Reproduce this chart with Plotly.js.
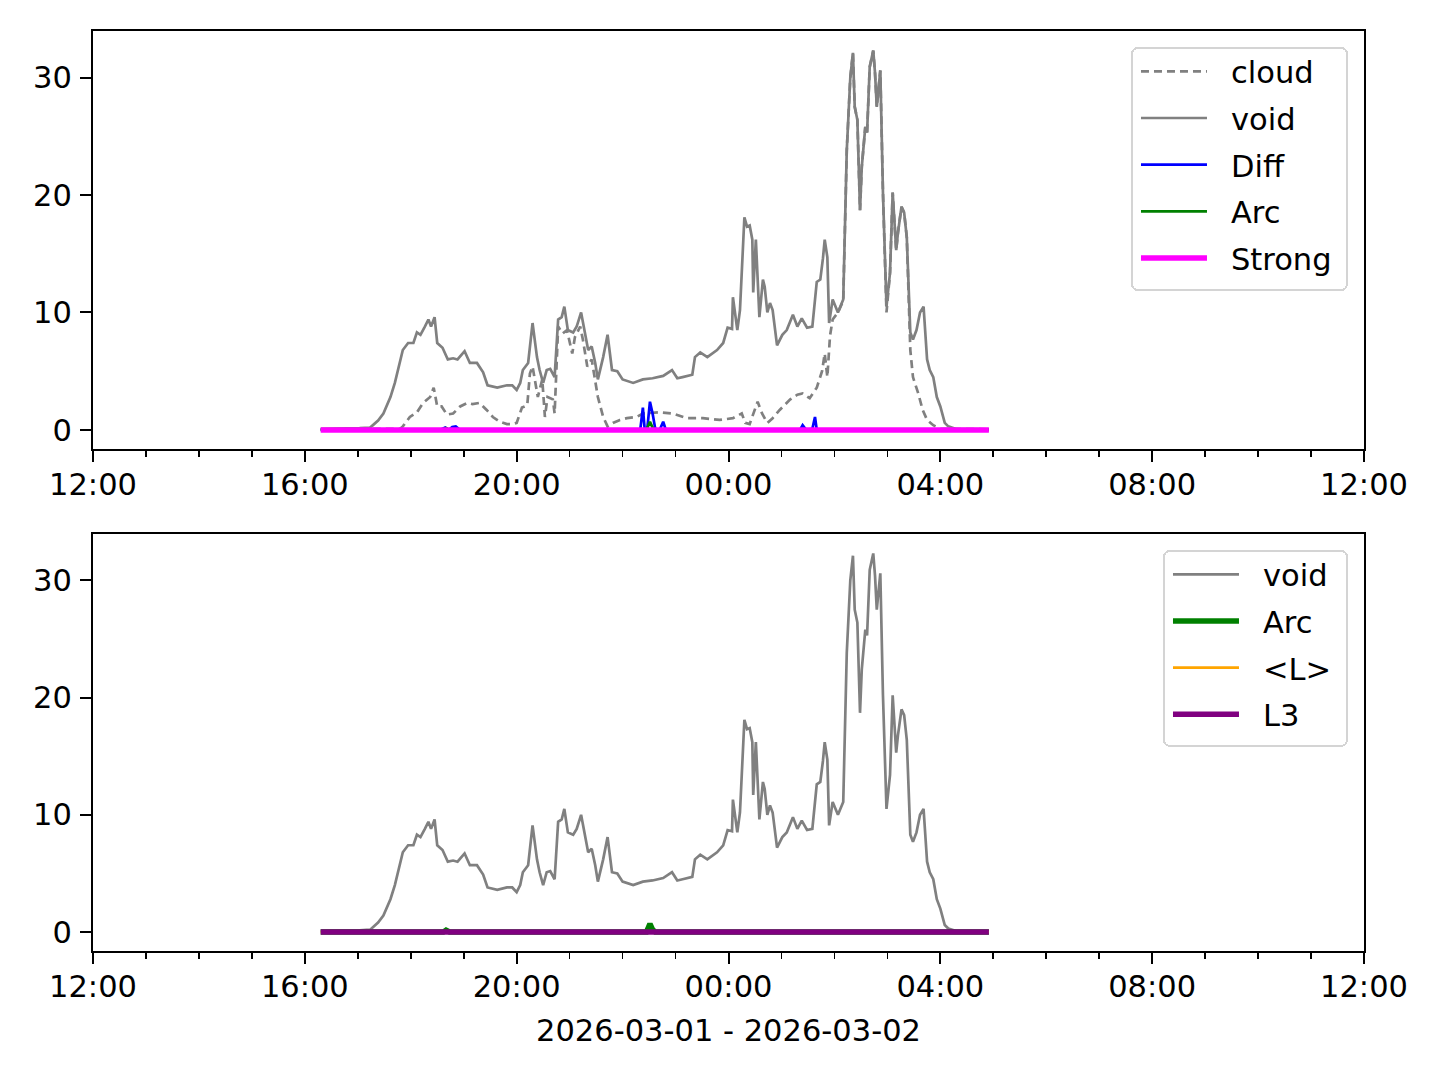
<!DOCTYPE html>
<html>
<head>
<meta charset="utf-8">
<script src="https://cdn.plot.ly/plotly-3.0.1.min.js"></script>
<style>
  html, body { margin: 0; padding: 0; background: #ffffff; }
  #chart { width: 1440px; height: 1080px; }
</style>
</head>
<body>
<div id="chart"></div>
<script>
// ---- data ----
const voidTimes = ["16:18","16:40","17:02","17:14","17:17","17:23","17:29","17:37","17:42","17:48","17:51","17:57","18:03","18:07","18:11","18:16","18:20","18:23","18:27","18:30","18:36","18:42","18:48","18:53","19:01","19:07","19:15","19:22","19:27","19:38","19:49","19:55","20:00","20:04","20:07","20:13","20:18","20:23","20:26","20:30","20:34","20:38","20:43","20:47","20:51","20:54","20:58","21:04","21:08","21:13","21:17","21:21","21:25","21:29","21:32","21:38","21:43","21:48","21:54","22:00","22:12","22:23","22:34","22:46","22:56","23:02","23:08","23:19","23:22","23:28","23:36","23:47","23:54","23:59","00:04","00:05","00:10","00:13","00:18","00:21","00:24","00:27","00:28","00:31","00:35","00:39","00:41","00:44","00:47","00:50","00:55","01:01","01:06","01:10","01:13","01:18","01:23","01:29","01:35","01:40","01:44","01:47","01:49","01:52","01:54","01:58","02:04","02:10","02:14","02:18","02:21","02:23","02:26","02:29","02:31","02:35","02:37","02:40","02:44","02:46","02:48","02:52","02:55","02:59","03:03","03:06","03:10","03:12","03:16","03:19","03:22","03:26","03:29","03:33","03:37","03:41","03:45","03:48","03:52","03:56","04:00","04:05","04:09","04:17","04:34","04:55"];
const voidValues = [0.1,0.1,0.15,0.2,0.4,0.8,1.4,2.8,4.0,6.0,6.8,7.4,7.4,8.3,8.1,8.8,9.4,8.8,9.6,7.4,7.0,6.0,6.1,6.0,6.7,5.7,5.7,4.9,3.8,3.6,3.8,3.8,3.4,4.0,5.1,5.7,9.1,6.2,5.1,4.0,5.1,5.2,4.5,9.4,9.6,10.5,8.5,8.3,8.8,10.0,8.3,6.8,7.1,5.7,4.3,6.2,8.1,5.1,5.0,4.3,4.0,4.3,4.4,4.6,5.1,4.4,4.5,4.7,6.2,6.6,6.2,6.8,7.4,8.7,8.6,11.3,8.5,10.2,18.1,17.3,17.4,16.2,11.7,16.2,9.6,12.8,12.2,10.0,10.8,10.2,7.2,8.1,8.5,9.2,9.8,8.8,9.5,8.7,8.8,12.6,12.8,14.6,16.2,14.7,9.1,11.1,10.0,11.1,23.8,30.0,32.1,27.5,26.4,18.7,22.4,25.8,25.3,30.9,32.3,30.4,27.5,30.6,20.2,10.5,13.4,20.2,15.3,16.8,19.0,18.5,16.4,8.3,7.7,8.5,10.0,10.5,6.0,5.1,4.5,2.8,2.0,0.6,0.3,0.1,0.05,0.05];

const cloudTimes = ["16:18","17:25","17:48","17:51","17:59","18:07","18:14","18:22","18:26","18:30","18:35","18:41","18:48","18:56","19:04","19:10","19:18","19:26","19:33","19:41","19:49","19:56","20:00","20:06","20:12","20:15","20:18","20:24","20:29","20:32","20:35","20:41","20:43","20:47","20:52","20:57","21:03","21:06","21:12","21:15","21:20","21:25","21:29","21:32","21:38","21:43","21:49","21:57","22:05","22:16","22:23","22:42","22:57","23:13","23:31","23:50","00:05","00:15","00:19","00:24","00:33","00:38","00:44","00:50","00:58","01:10","01:18","01:24","01:32","01:40","01:46","01:49","01:52","01:55","01:58","02:04","02:10","02:14","02:18","02:21","02:23","02:26","02:29","02:31","02:35","02:37","02:40","02:44","02:46","02:48","02:52","02:55","02:59","03:03","03:06","03:10","03:12","03:16","03:19","03:22","03:26","03:29","03:35","03:40","03:45","03:52","04:00","04:55"];
const cloudValues = [0.05,0.05,0.1,0.3,1.1,1.5,2.3,2.8,3.6,2.0,2.0,1.3,1.4,2.0,2.3,2.2,2.3,1.7,1.1,0.7,0.5,0.5,0.6,1.9,2.1,4.8,5.4,2.8,4.3,1.1,2.8,2.6,1.4,8.8,8.2,8.5,6.5,7.9,8.8,7.7,5.4,6.0,4.0,2.8,1.1,0.3,0.6,0.85,1.0,1.1,1.4,1.5,1.4,1.0,1.0,0.85,1.0,1.4,0.6,0.5,2.4,1.4,0.6,1.0,1.7,2.6,3.0,3.1,2.7,3.6,5.0,6.5,4.5,8.0,9.4,10.0,11.0,23.8,30.0,32.1,27.5,26.4,18.7,22.4,25.8,25.3,30.9,32.3,30.4,27.5,30.6,20.2,10.0,13.4,20.2,15.3,16.8,19.0,18.5,16.4,6.8,4.5,3.1,1.7,0.85,0.4,0.1,0.05];

const diffTimes = ["16:18","18:33","18:39","18:43","18:47","18:51","18:56","22:20","22:23","22:25","22:28","22:31","22:34","22:37","22:42","22:46","22:49","01:21","01:24","01:28","01:35","01:38","01:40","04:55"];
const diffValues = [0,0,0.2,0,0.25,0.3,0,0,1.9,0.1,0.1,2.4,1.4,0.1,0,0.7,0,0,0.4,0,0.1,1.1,0,0];

const arcTimes = ["16:18","18:37","18:40","18:44","22:27","22:31","22:34","22:37","04:55"];
const arcValues = [0,0,0.15,0,0,0.7,0.2,0,0];

const flatTimes = ["16:18","17:00","18:00","19:00","20:00","21:00","22:00","23:00","00:00","01:00","02:00","03:00","04:00","04:55"];
const strongValues = [0,0,0,0,0,0,0,0,0,0,0,0,0,0];
const lMeanValues = [0,0,0,0,0,0,0,0,0,0,0,0,0,0];
const l3Values = [0,0,0,0,0,0,0,0,0,0,0,0,0,0];

const yTicks = [0, 10, 20, 30];
const xLabel = "2026-03-01 - 2026-03-02";

// ---- helpers ----
function toDate(hhmm) {
  const h = parseInt(hhmm.slice(0, 2), 10);
  const day = h >= 12 ? "2026-03-01" : "2026-03-02";
  return day + " " + hhmm + ":00";
}
const T = arr => arr.map(toDate);

const FONT = "DejaVu Sans, Liberation Sans, sans-serif";
const FS = 30.5;
const THIN = 2.7, THICK = 5.5;

const traces = [
  {x: T(cloudTimes), y: cloudValues, name: "cloud", mode: "lines", line: {color: "#808080", width: THIN, dash: "8px,5px"}, xaxis: "x", yaxis: "y", legend: "legend", legendgroup: "a1"},
  {x: T(voidTimes), y: voidValues, name: "void", mode: "lines", line: {color: "#808080", width: THIN}, xaxis: "x", yaxis: "y", legend: "legend", legendgroup: "a2"},
  {x: T(diffTimes), y: diffValues, name: "Diff", mode: "lines", line: {color: "#0000ff", width: THIN}, xaxis: "x", yaxis: "y", legend: "legend", legendgroup: "a3"},
  {x: T(arcTimes), y: arcValues, name: "Arc", mode: "lines", line: {color: "#008000", width: THIN}, xaxis: "x", yaxis: "y", legend: "legend", legendgroup: "a4"},
  {x: T(flatTimes), y: strongValues, name: "Strong", mode: "lines", line: {color: "#ff00ff", width: THICK}, xaxis: "x", yaxis: "y", legend: "legend", legendgroup: "a5"},

  {x: T(voidTimes), y: voidValues, name: "void", mode: "lines", line: {color: "#808080", width: THIN}, xaxis: "x2", yaxis: "y2", legend: "legend2", legendgroup: "b1"},
  {x: T(arcTimes), y: arcValues, name: "Arc", mode: "lines", line: {color: "#008000", width: THICK}, xaxis: "x2", yaxis: "y2", legend: "legend2", legendgroup: "b2"},
  {x: T(flatTimes), y: lMeanValues, name: "<L>", mode: "lines", line: {color: "#ffa500", width: THIN}, xaxis: "x2", yaxis: "y2", legend: "legend2", legendgroup: "b3"},
  {x: T(flatTimes), y: l3Values, name: "L3", mode: "lines", line: {color: "#800080", width: THICK}, xaxis: "x2", yaxis: "y2", legend: "legend2", legendgroup: "b4"}
];

const xBase = {
  type: "date",
  range: ["2026-03-01 12:00:00", "2026-03-02 12:00:00"],
  tick0: "2026-03-01 12:00:00",
  dtick: 4 * 3600000,
  tickformat: "%H:%M",
  ticks: "outside", ticklen: 11, tickwidth: 2, tickcolor: "#000",
  showline: true, linecolor: "#000", linewidth: 2, mirror: true,
  showgrid: false, zeroline: false,
  ticklabelstandoff: -4,
  minor: {dtick: 3600000, ticks: "outside", ticklen: 6, tickwidth: 1.6, tickcolor: "#000", showgrid: false},
  tickfont: {family: FONT, size: FS, color: "#000"}
};
const yBase = {
  range: [-1.62, 33.96],
  tickvals: yTicks,
  ticktext: yTicks.map(String),
  ticks: "outside", ticklen: 11, tickwidth: 2, tickcolor: "#000",
  showline: true, linecolor: "#000", linewidth: 2, mirror: true,
  showgrid: false, zeroline: false,
  ticklabelstandoff: 2,
  tickfont: {family: FONT, size: FS, color: "#000"}
};

const legBase = {
  xanchor: "right", yanchor: "top",
  bgcolor: "rgba(255,255,255,0.85)", bordercolor: "#d4d4d4", borderwidth: 2,
  font: {family: FONT, size: FS, color: "#000"},
  itemwidth: 88, tracegroupgap: 4, traceorder: "grouped"
};

const layout = {
  width: 1440, height: 1080,
  margin: {l: 93, r: 76, t: 31, b: 129},
  paper_bgcolor: "#fff", plot_bgcolor: "#fff",
  font: {family: FONT, size: FS, color: "#000"},
  xaxis: Object.assign({}, xBase, {domain: [0, 1], anchor: "y"}),
  yaxis: Object.assign({}, yBase, {domain: [0.5457, 1], anchor: "x"}),
  xaxis2: Object.assign({}, xBase, {domain: [0, 1], anchor: "y2",
    title: {text: xLabel, font: {family: FONT, size: FS, color: "#000"}, standoff: 17}}),
  yaxis2: Object.assign({}, yBase, {domain: [0, 0.4533], anchor: "x2"}),
  legend: Object.assign({}, legBase, {x: 0.9874, y: 0.9826}),
  legend2: Object.assign({}, legBase, {x: 0.9874, y: 0.4359}),
  showlegend: true
};

Plotly.newPlot("chart", traces, layout, {displayModeBar: false, staticPlot: true}).then(gd => {
  // matplotlib-style legend: shorter handle with a gap before the label, rounded frame,
  // a little extra right padding and entries nudged up inside the frame
  gd.querySelectorAll(".legendlines path").forEach(p => p.setAttribute("d", "M8,0h66"));
  const DX = 9, DY = 4;
  gd.querySelectorAll(".infolayer > g").forEach(g => {
    const cls = g.getAttribute("class") || "";
    if (!/^legend\d*$/.test(cls)) return;
    const tr = g.getAttribute("transform") || "";
    const m = tr.match(/translate\(\s*([-\d.]+)[ ,]+([-\d.]+)\s*\)/);
    if (m) g.setAttribute("transform", "translate(" + (parseFloat(m[1]) - DX) + "," + (parseFloat(m[2]) - DY) + ")");
    const bg = g.querySelector("rect.bg");
    if (bg) {
      bg.setAttribute("rx", 6); bg.setAttribute("ry", 6);
      bg.setAttribute("width", parseFloat(bg.getAttribute("width")) + DX);
      bg.setAttribute("y", parseFloat(bg.getAttribute("y") || 0) + DY);
    }
  });
});
</script>
</body>
</html>
